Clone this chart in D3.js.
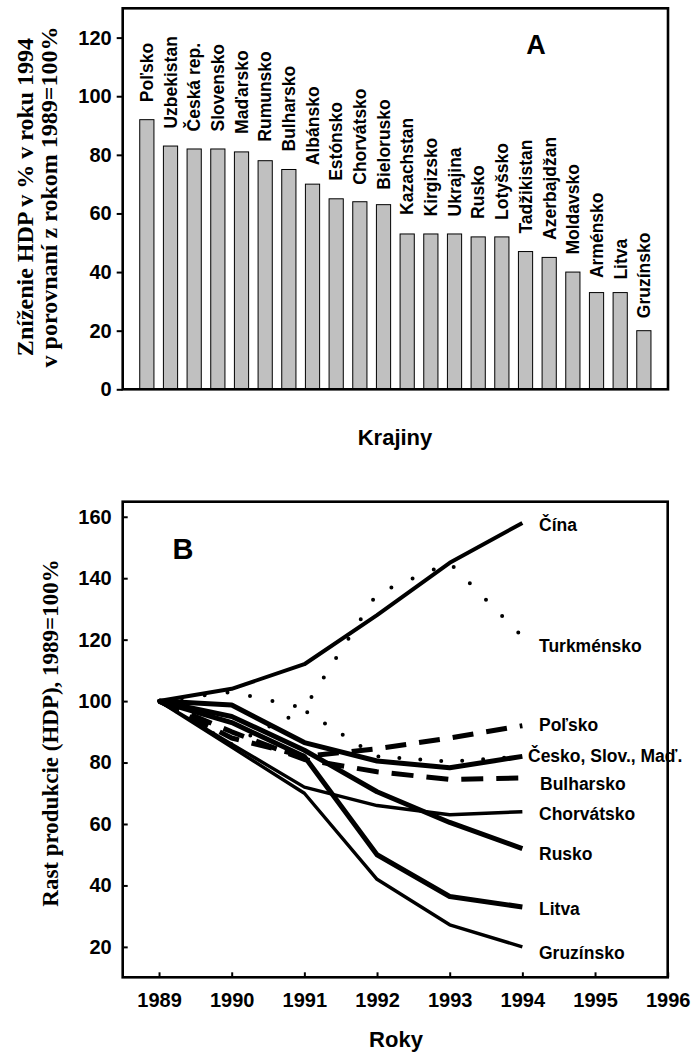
<!DOCTYPE html>
<html><head><meta charset="utf-8">
<script src="https://cdn.jsdelivr.net/npm/d3@7"></script>
<style>body{margin:0;background:#fff} svg{display:block}</style>
</head><body>
<script>
// ---------- DATA ----------
const countries = ["Poľsko","Uzbekistan","Česká rep.","Slovensko","Maďarsko","Rumunsko","Bulharsko","Albánsko","Estónsko","Chorvátsko","Bielorusko","Kazachstan","Kirgizsko","Ukrajina","Rusko","Lotyšsko","Tadžikistan","Azerbajdžan","Moldavsko","Arménsko","Litva","Gruzínsko"];
const gdp1994 = [92,83,82,82,81,78,75,70,65,64,63,53,53,53,52,52,47,45,40,33,33,20];
const yTicksA = [0,20,40,60,80,100,120];

const years = [1989,1990,1991,1992,1993,1994];
const xTicksB = [1989,1990,1991,1992,1993,1994,1995,1996];
const yTicksB = [20,40,60,80,100,120,140,160];
const cina       = [100,104,112,128,145,158];
const turkmensko = [100,103,97.7,135,145,121];
const polsko     = [100,88,82,84.5,88,92];
const cesko      = [100,98.7,86.5,80.5,78.3,82];
const slovMad    = [100,86,97,82,80.3,82];
const bulharsko  = [100,90,81,77,74.5,75];
const chorvatsko = [100,86,72,66,63,64];
const rusko      = [100,95,84,70.5,60.5,52];
const litva      = [100,93,82,50,36.4,33];
const gruzinsko  = [100,85,70,42,27.2,20];

const seriesNames = ["Čína","Turkménsko","Poľsko","Česko, Slov., Maď.","","Bulharsko","Chorvátsko","Rusko","Litva","Gruzínsko"];
const seriesValues = [cina,turkmensko,polsko,cesko,slovMad,bulharsko,chorvatsko,rusko,litva,gruzinsko];

// ---------- STYLES ----------
const styles = [
  {w:4, dash:null, cap:"butt", dy:2, lx:539},
  {w:4, dash:"0 23", cap:"round", dy:9, lx:539},
  {w:5, dash:"21 13", cap:"butt", dy:-1, lx:539},
  {w:5, dash:null, cap:"butt", dy:-1, lx:528},
  {w:4, dash:"0 21", cap:"round", dy:0, lx:539},
  {w:5, dash:"22 13", cap:"butt", dy:6, lx:540},
  {w:3.4, dash:null, cap:"butt", dy:1.5, lx:539},
  {w:5, dash:null, cap:"butt", dy:5, lx:539},
  {w:5, dash:null, cap:"butt", dy:1.5, lx:539},
  {w:3.4, dash:null, cap:"butt", dy:6, lx:539}
];
const barLabelGap = [17.5,17.5,17.5,17.5,18,19,18,19,18,17,15,19,17.5,17.5,18,17,18,17.5,17.5,14.5,13,12.5];

const W = 694, H = 1055;
const sans = "'Liberation Sans', Arial, sans-serif";
const serif = "'Liberation Serif', 'Times New Roman', serif";

const svg = d3.select("body").append("svg").attr("width", W).attr("height", H)
  .style("font-family", sans);

// ---------- CHART A ----------
const A = {l:122.7, r:668, t:8.3, b:389.3};
const xA = d3.scaleBand().domain(countries).range([A.l, A.r]).paddingInner(0.4).paddingOuter(0.72);
const yA = d3.scaleLinear().domain([0,130]).range([A.b, A.t]);

const gA = svg.append("g");
gA.selectAll("rect.bar").data(countries).join("rect")
  .attr("class","bar")
  .attr("x", d => xA(d)).attr("width", xA.bandwidth())
  .attr("y", (d,i) => yA(gdp1994[i])).attr("height", (d,i) => yA(0) - yA(gdp1994[i]))
  .attr("fill", "#c0c0c0").attr("stroke", "#000").attr("stroke-width", 1);

gA.selectAll("text.blab").data(countries).join("text")
  .attr("class","blab")
  .attr("transform", (d,i) => `translate(${xA(d)+xA.bandwidth()/2},${yA(gdp1994[i]) - barLabelGap[i]}) rotate(-90)`)
  .attr("dy", "0.36em")
  .attr("font-size", 17.5).attr("font-weight", "bold")
  .text(d => d);

const axA = d3.axisLeft(yA).tickValues(yTicksA).tickSize(6).tickPadding(5);
gA.append("g").attr("transform", `translate(${A.l},0)`).call(axA)
  .call(g => g.select(".domain").remove())
  .call(g => g.selectAll("line").attr("stroke-width", 2))
  .call(g => g.selectAll("text").attr("font-size", 20).attr("font-weight","bold").attr("font-family", sans));

gA.append("rect").attr("x", A.l).attr("y", A.t).attr("width", A.r-A.l).attr("height", A.b-A.t)
  .attr("fill","none").attr("stroke","#000").attr("stroke-width", 2.6);

gA.append("text").attr("x", 536).attr("y", 54).attr("text-anchor","middle")
  .attr("font-size", 27).attr("font-weight","bold").text("A");

gA.append("text").attr("x", 395).attr("y", 445).attr("text-anchor","middle")
  .attr("font-size", 22).attr("font-weight","bold").text("Krajiny");

const ytA = gA.append("text").attr("transform", "translate(0,197) rotate(-90)")
  .attr("text-anchor","middle").attr("font-family", serif).attr("font-weight","bold").attr("font-size", 24);
ytA.append("tspan").attr("x",0).attr("y",33).text("Zníženie HDP v % v roku 1994");
ytA.append("tspan").attr("x",0).attr("y",57).text("v porovnaní z rokom 1989=100%");

// ---------- CHART B ----------
const B = {l:122.7, r:667.7, t:501.7, b:977.3};
const xB = d3.scaleLinear().domain([1988.5, 1996]).range([B.l, B.r]);
const yB = d3.scaleLinear().domain([10.1, 164.9]).range([B.b, B.t]);

const gB = svg.append("g");
const axYB = d3.axisLeft(yB).tickValues(yTicksB).tickSize(-5).tickPadding(11);
gB.append("g").attr("transform", `translate(${B.l},0)`).call(axYB)
  .call(g => g.select(".domain").remove())
  .call(g => g.selectAll("line").attr("stroke-width", 2))
  .call(g => g.selectAll("text").attr("font-size", 20).attr("font-weight","bold").attr("font-family", sans));

const axXB = d3.axisBottom(xB).tickValues(xTicksB).tickFormat(d3.format("d")).tickSize(-5).tickPadding(16);
gB.append("g").attr("transform", `translate(0,${B.b})`).call(axXB)
  .call(g => g.select(".domain").remove())
  .call(g => g.selectAll("line").attr("stroke-width", 2))
  .call(g => g.selectAll("text").attr("font-size", 20).attr("font-weight","bold").attr("font-family", sans));

gB.append("rect").attr("x", B.l).attr("y", B.t).attr("width", B.r-B.l).attr("height", B.b-B.t)
  .attr("fill","none").attr("stroke","#000").attr("stroke-width", 2.6);

const line = d3.line().x((d,i) => xB(years[i])).y(d => yB(d));
gB.selectAll("path.ser").data(seriesValues).join("path")
  .attr("class","ser")
  .attr("d", d => line(d))
  .attr("fill","none").attr("stroke","#000")
  .attr("stroke-width", (d,i) => styles[i].w)
  .attr("stroke-dasharray", (d,i) => styles[i].dash)
  .attr("stroke-linecap", (d,i) => styles[i].cap)
  .attr("stroke-linejoin", "round");

gB.selectAll("text.slab").data(seriesNames).join("text")
  .attr("class","slab")
  .attr("x", (d,i) => styles[i].lx)
  .attr("y", (d,i) => yB(seriesValues[i][seriesValues[i].length-1]) + styles[i].dy)
  .attr("dy", "0.36em")
  .attr("font-size", 17.5).attr("font-weight","bold")
  .text(d => d);

gB.append("text").attr("x", 183).attr("y", 559).attr("text-anchor","middle")
  .attr("font-size", 29).attr("font-weight","bold").text("B");

gB.append("text").attr("x", 396).attr("y", 1047).attr("text-anchor","middle")
  .attr("font-size", 22).attr("font-weight","bold").text("Roky");

gB.append("text").attr("transform", "translate(58,733) rotate(-90)")
  .attr("text-anchor","middle").attr("font-family", serif).attr("font-weight","bold").attr("font-size", 23)
  .text("Rast produkcie (HDP), 1989=100%");
</script>
</body></html>
